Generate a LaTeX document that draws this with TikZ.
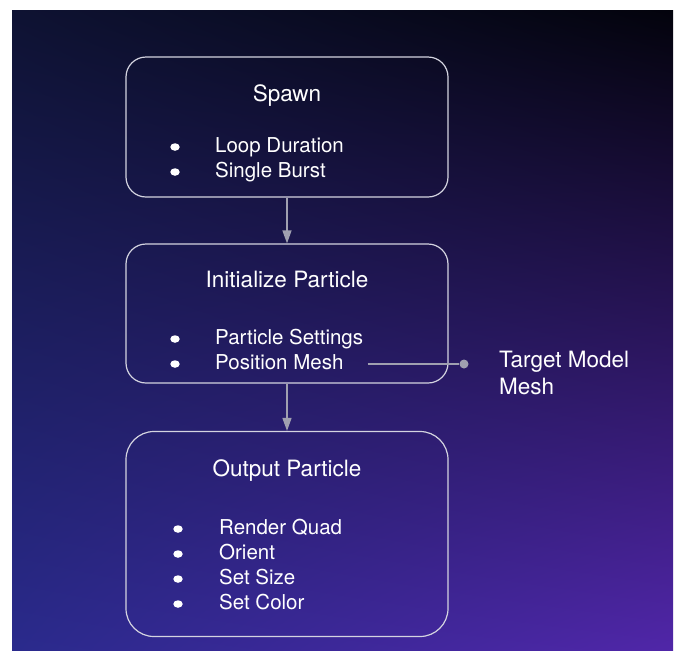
\documentclass[tikz,border=0pt]{standalone}
\usepackage{fontspec}
\setmainfont{TeX Gyre Heros}
\usetikzlibrary{arrows.meta, positioning, shadings, shapes.geometric}
\definecolor{BgTL}{RGB}{14, 18, 50}
\definecolor{BgTR}{RGB}{3, 3, 12}
\definecolor{BgBL}{RGB}{42, 42, 140}
\definecolor{BgBR}{RGB}{80, 38, 168}
\definecolor{EdgeGray}{RGB}{212, 212, 224}
\definecolor{LinkGray}{RGB}{160, 160, 176}

\begin{document}
\begin{tikzpicture}[x=1pt, y=-1pt,
            stage/.style={rectangle, rounded corners=20pt, draw=EdgeGray, line width=1.2pt,
                          minimum width=322pt},
            title/.style={text=white, anchor=base, inner sep=0pt, font=\fontsize{22.5}{26}\selectfont},
            item/.style={text=white, anchor=base west, inner sep=0pt, font=\fontsize{20.5}{24}\selectfont},
            bullet/.style={ellipse, fill=white, inner sep=0pt, minimum width=9.5pt, minimum height=7.5pt},
            arrow/.style={-{Triangle[width=9pt, length=13pt]}, LinkGray, line width=1.4pt}
        ]
            \useasboundingbox (0,0) rectangle (683,662);
            \shade[upper left=BgTL, upper right=BgTR, lower left=BgBL, lower right=BgBR]
                (12,10) rectangle (673,650);

            % Stages
            \node[stage, minimum height=140pt] (spawn) at (287,127) {};
            \node[stage, minimum height=139pt] (init) at (287,313.5) {};
            \node[stage, minimum height=205pt, rounded corners=28pt] (output) at (287,534) {};

            % Spawn
            \node[title] (spawnT) at (287,101) {Spawn};
            \node[item] (loop) at (215,152) {Loop Duration};
            \node[item] (burst) at (215,177) {Single Burst};

            % Initialize
            \node[title] (initT) at (287,287) {Initialize Particle};
            \node[item] (settings) at (215,344) {Particle Settings};
            \node[item] (posmesh) at (215,369) {Position Mesh};

            % Output
            \node[title] (outT) at (287,476) {Output Particle};
            \node[item] (quad) at (219,534) {Render Quad};
            \node[item] (orient) at (219,559) {Orient};
            \node[item] (size) at (219,584) {Set Size};
            \node[item] (color) at (219,609) {Set Color};

            % Bullets
            \foreach \it in {loop, burst, settings, posmesh}
                \node[bullet] (dot-\it) at ([shift={(-40,-5)}]\it.base west) {};
            \foreach \it in {quad, orient, size, color}
                \node[bullet] (dot-\it) at ([shift={(-41,-5)}]\it.base west) {};

            % Target mesh
            \node[circle, fill=LinkGray, inner sep=0pt, minimum size=9pt] (target) at (464,364) {};
            \node[text=white, anchor=west, align=left, inner sep=0pt,
                  font=\fontsize{22.5}{26.5}\selectfont] (targetT) at (499,373) {Target Model\\Mesh};

            % Arrows
            \draw[arrow] (spawn) -- (init);
            \draw[arrow] (init) -- (output);
            \draw[LinkGray, line width=1.4pt] (posmesh.east |- target) ++(24,0) coordinate (meshEnd) -- (target);
        \end{tikzpicture}
\end{document}
